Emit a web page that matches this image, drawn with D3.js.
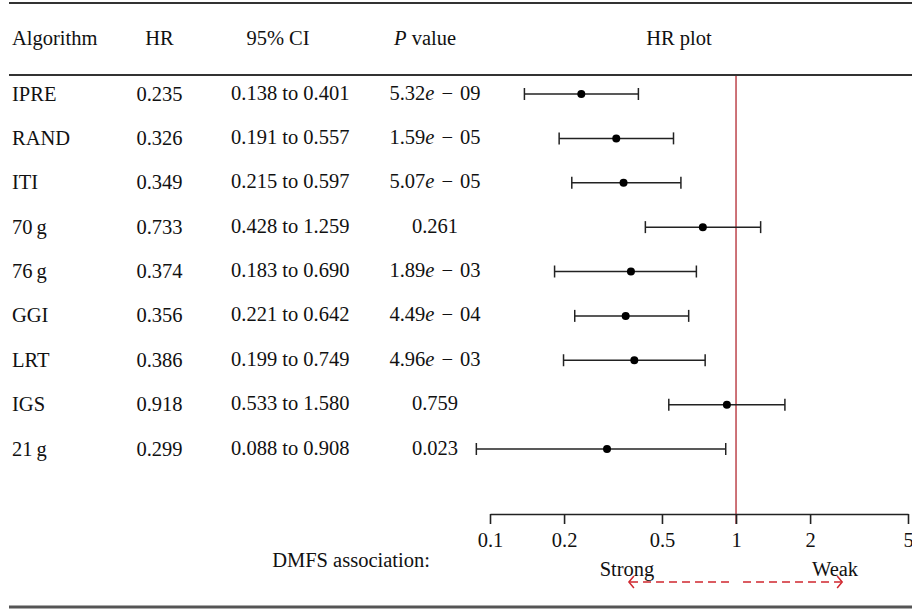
<!DOCTYPE html>
<html>
<head>
<meta charset="utf-8">
<script src="https://cdn.jsdelivr.net/npm/d3@7/dist/d3.min.js"></script>
<style>
  html, body { margin: 0; padding: 0; background: #fff; }
  svg { display: block; }
  text { font-family: "Liberation Serif", "Times New Roman", serif; fill: #111; }
</style>
</head>
<body>
<svg id="chart" width="912" height="609"></svg>
<script>
// Hazard ratios for distant-metastasis-free survival, one row per algorithm
const algorithms = ["IPRE", "RAND", "ITI", "70\u2009g", "76\u2009g", "GGI", "LRT", "IGS", "21\u2009g"];
const hr      = [0.235, 0.326, 0.349, 0.733, 0.374, 0.356, 0.386, 0.918, 0.299];
const ciLow   = [0.138, 0.191, 0.215, 0.428, 0.183, 0.221, 0.199, 0.533, 0.088];
const ciHigh  = [0.401, 0.557, 0.597, 1.259, 0.690, 0.642, 0.749, 1.580, 0.908];
// P values: [mantissa, exponent] in scientific form, or a plain string
const pValues = [["5.32", "09"], ["1.59", "05"], ["5.07", "05"], "0.261", ["1.89", "03"],
                 ["4.49", "04"], ["4.96", "03"], "0.759", "0.023"];
const tickValues = [0.1, 0.2, 0.5, 1, 2, 5];
const tickLabels = ["0.1", "0.2", "0.5", "1", "2", "5"];
const arrowSpan = [0.367, 2.7];   // extent of the Strong/Weak guide arrows in HR units

const svg = d3.select("#chart");
const W = 912;
const FS = 20.5;

// horizontal HR scale (log)
const x = d3.scaleLog().domain([0.1, 5]).range([490, 908]);
// row positions
const y = d3.scalePoint().domain(algorithms).range([94, 449]);

// table rules
svg.append("line").attr("x1", 9).attr("x2", W).attr("y1", 3).attr("y2", 3)
  .attr("stroke", "#333").attr("stroke-width", 2);
svg.append("line").attr("x1", 9).attr("x2", W).attr("y1", 75).attr("y2", 75)
  .attr("stroke", "#333").attr("stroke-width", 2);
svg.append("line").attr("x1", 9).attr("x2", W).attr("y1", 607).attr("y2", 607)
  .attr("stroke", "#555").attr("stroke-width", 3);

// header
const header = svg.append("g").attr("font-size", FS);
header.append("text").attr("x", 12).attr("y", 45).text("Algorithm");
header.append("text").attr("x", 159.5).attr("y", 45).attr("text-anchor", "middle").text("HR");
header.append("text").attr("x", 278).attr("y", 45).attr("text-anchor", "middle").text("95% CI");
const ph = header.append("text").attr("x", 425).attr("y", 45).attr("text-anchor", "middle");
ph.append("tspan").attr("font-style", "italic").text("P");
ph.append("tspan").text(" value");
header.append("text").attr("x", 679).attr("y", 45).attr("text-anchor", "middle").text("HR plot");

// reference line at HR = 1
svg.append("line")
  .attr("x1", x(1)).attr("x2", x(1)).attr("y1", 76).attr("y2", 524)
  .attr("stroke", "#c8646a").attr("stroke-width", 1.8);

// table rows
const rows = svg.append("g").attr("font-size", FS)
  .selectAll("g").data(algorithms).join("g")
  .attr("transform", d => `translate(0,${y(d)})`);

rows.append("text").attr("x", 12).attr("y", 6.5).text(d => d);
rows.append("text").attr("x", 159.5).attr("y", 6.5).attr("text-anchor", "middle")
  .text((d, i) => hr[i].toFixed(3));
rows.append("text").attr("x", 231).attr("y", 5.5)
  .text((d, i) => `${ciLow[i].toFixed(3)} to ${ciHigh[i].toFixed(3)}`);
rows.append("text").attr("x", 435).attr("y", 5.5).attr("text-anchor", "middle")
  .each(function (d, i) {
    const t = d3.select(this);
    const p = pValues[i];
    if (typeof p === "string") { t.text(p); return; }
    t.append("tspan").text(p[0]);
    t.append("tspan").attr("font-style", "italic").text("e");
    t.append("tspan").attr("dx", 7).text("\u2212");
    t.append("tspan").attr("dx", 7).text(p[1]);
  });

// confidence intervals and point estimates
const marks = rows.append("g").attr("stroke", "#222").attr("stroke-width", 1.5);
marks.append("line")
  .attr("x1", (d, i) => x(ciLow[i])).attr("x2", (d, i) => x(ciHigh[i]))
  .attr("y1", 0).attr("y2", 0);
marks.append("line")
  .attr("x1", (d, i) => x(ciLow[i])).attr("x2", (d, i) => x(ciLow[i]))
  .attr("y1", -6).attr("y2", 6);
marks.append("line")
  .attr("x1", (d, i) => x(ciHigh[i])).attr("x2", (d, i) => x(ciHigh[i]))
  .attr("y1", -6).attr("y2", 6);
rows.append("circle")
  .attr("cx", (d, i) => x(hr[i])).attr("cy", 0).attr("r", 4)
  .attr("fill", "#000");

// axis
const axisG = svg.append("g").attr("transform", "translate(0,514)")
  .call(d3.axisBottom(x).tickValues(tickValues)
    .tickFormat((d, i) => tickLabels[i]).tickSize(10).tickPadding(8).tickSizeOuter(0));
axisG.select(".domain").attr("stroke", "#222").attr("stroke-width", 1.6);
axisG.selectAll(".tick line").attr("stroke", "#222").attr("stroke-width", 1.6);
axisG.selectAll(".tick text")
  .attr("font-family", "Liberation Serif, serif").attr("font-size", FS).attr("fill", "#111");

// association guide
svg.append("text").attr("x", 351).attr("y", 567).attr("font-size", FS)
  .attr("text-anchor", "middle").text("DMFS association:");
svg.append("text").attr("x", 627).attr("y", 576).attr("font-size", FS)
  .attr("text-anchor", "middle").text("Strong");
svg.append("text").attr("x", 835).attr("y", 576).attr("font-size", FS)
  .attr("text-anchor", "middle").text("Weak");

const ay = 582;
const guide = svg.append("g").attr("stroke", "#d0262e").attr("stroke-width", 1.5).attr("fill", "none");
guide.append("line").attr("x1", x(1) - 7).attr("x2", x(arrowSpan[0]) + 1).attr("y1", ay).attr("y2", ay)
  .attr("stroke-dasharray", "8,5");
guide.append("line").attr("x1", x(1) + 7).attr("x2", x(arrowSpan[1]) - 1).attr("y1", ay).attr("y2", ay)
  .attr("stroke-dasharray", "8,5");
guide.append("path")
  .attr("d", `M${x(arrowSpan[0]) + 5},${ay - 6}L${x(arrowSpan[0])},${ay}L${x(arrowSpan[0]) + 5},${ay + 6}`);
guide.append("path")
  .attr("d", `M${x(arrowSpan[1]) - 5},${ay - 6}L${x(arrowSpan[1])},${ay}L${x(arrowSpan[1]) - 5},${ay + 6}`);
</script>
</body>
</html>
